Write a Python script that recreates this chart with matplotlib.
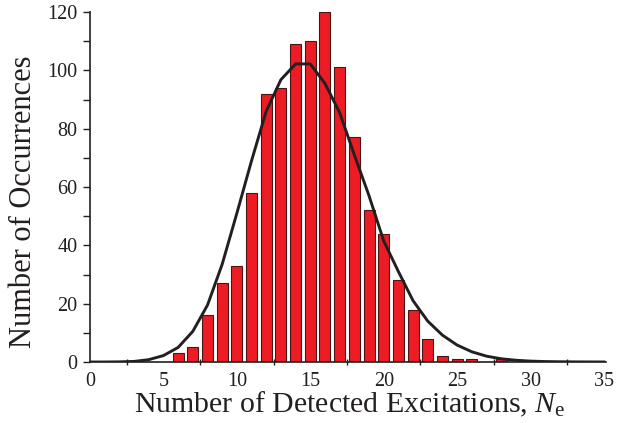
import matplotlib
matplotlib.use("Agg")
import matplotlib.pyplot as plt
from matplotlib.ticker import MultipleLocator, FixedLocator

# Histogram data (counts per number of detected excitations)
ne_values = [6, 7, 8, 9, 10, 11, 12, 13, 14, 15, 16, 17, 18, 19, 20, 21, 22, 23, 24, 25, 26, 27, 28]
counts = [3, 5, 16, 27, 33, 58, 92, 94, 109, 110, 120, 101, 77, 52, 44, 28, 18, 8, 2, 1, 1, 0, 1]

# Fitted curve read at integer points
fit_x = list(range(0, 36))
fit_y = [0.0, 0.0, 0.05, 0.2, 0.8, 2.2, 5.0, 10.5, 19.5, 33.5, 51.0, 69.0, 86.0, 96.8,
         102.2, 102.2, 95.5, 85.5, 71.0, 57.0, 41.5, 31.0, 21.0, 14.0, 9.2, 5.8,
         3.5, 2.0, 1.1, 0.6, 0.3, 0.15, 0.08, 0.04, 0.02, 0.01]

x_tick_labels = ["0", "5", "10", "15", "20", "25", "30", "35"]
y_tick_labels = ["0", "20", "40", "60", "80", "100", "120"]

ink = "#231F20"
plt.rcParams["font.family"] = ["Liberation Serif", "DejaVu Serif"]
plt.rcParams["mathtext.fontset"] = "custom"
plt.rcParams["mathtext.it"] = "Liberation Serif:italic"
plt.rcParams["mathtext.rm"] = "Liberation Serif"

W, H = 618, 423
x_max = 35.15
ax_w = 514 * x_max / 35
fig = plt.figure(figsize=(W / 100, H / 100), dpi=100)
ax = fig.add_axes([90 / W, 61 / H, ax_w / W, 350 / H])

ax.bar(ne_values, counts, width=0.75, color="#ED1C24", edgecolor="#4a1416",
       linewidth=0.8, zorder=2)
ax.plot(fit_x, fit_y, color=ink, linewidth=2.1, zorder=3, solid_joinstyle="round")

ax.set_xlim(0, x_max)
ax.set_ylim(0, 120)

ax.xaxis.set_major_locator(FixedLocator([0, 5, 10, 15, 20, 25, 30, 35]))
ax.set_xticklabels(x_tick_labels)
ax.xaxis.set_minor_locator(FixedLocator([2.5, 7.5, 12.5, 17.5, 22.5, 27.5, 32.5]))
ax.yaxis.set_major_locator(FixedLocator([0, 20, 40, 60, 80, 100, 120]))
ax.set_yticklabels(y_tick_labels)
ax.yaxis.set_minor_locator(MultipleLocator(10))

ax.tick_params(axis="x", which="major", length=0, pad=7, labelsize=14.5, colors=ink)
ax.tick_params(axis="x", which="minor", direction="inout", length=5, width=1.0, color=ink)
ax.tick_params(axis="y", which="both", direction="out", length=5, width=1.0, color=ink)
ax.tick_params(axis="y", which="major", pad=4, labelsize=14.5, labelcolor=ink)

for s in ["top", "right"]:
    ax.spines[s].set_visible(False)
for s in ["left", "bottom"]:
    ax.spines[s].set_linewidth(1.2)
    ax.spines[s].set_color(ink)

ax.set_xlabel(r"Number of Detected Excitations, $\mathit{N}_{\mathrm{e}}$", fontsize=21.5,
              color=ink)
ax.xaxis.label.set_va("baseline")
ax.xaxis.set_label_coords((350 - 90) / ax_w, (11 - 61) / 350)

ax.set_ylabel("Number of Occurrences", fontsize=22, color=ink)
ax.yaxis.label.set_va("center")
ax.yaxis.set_label_coords((24 - 90) / ax_w, (221 - 61) / 350)

fig.savefig("out.png", dpi=100)
